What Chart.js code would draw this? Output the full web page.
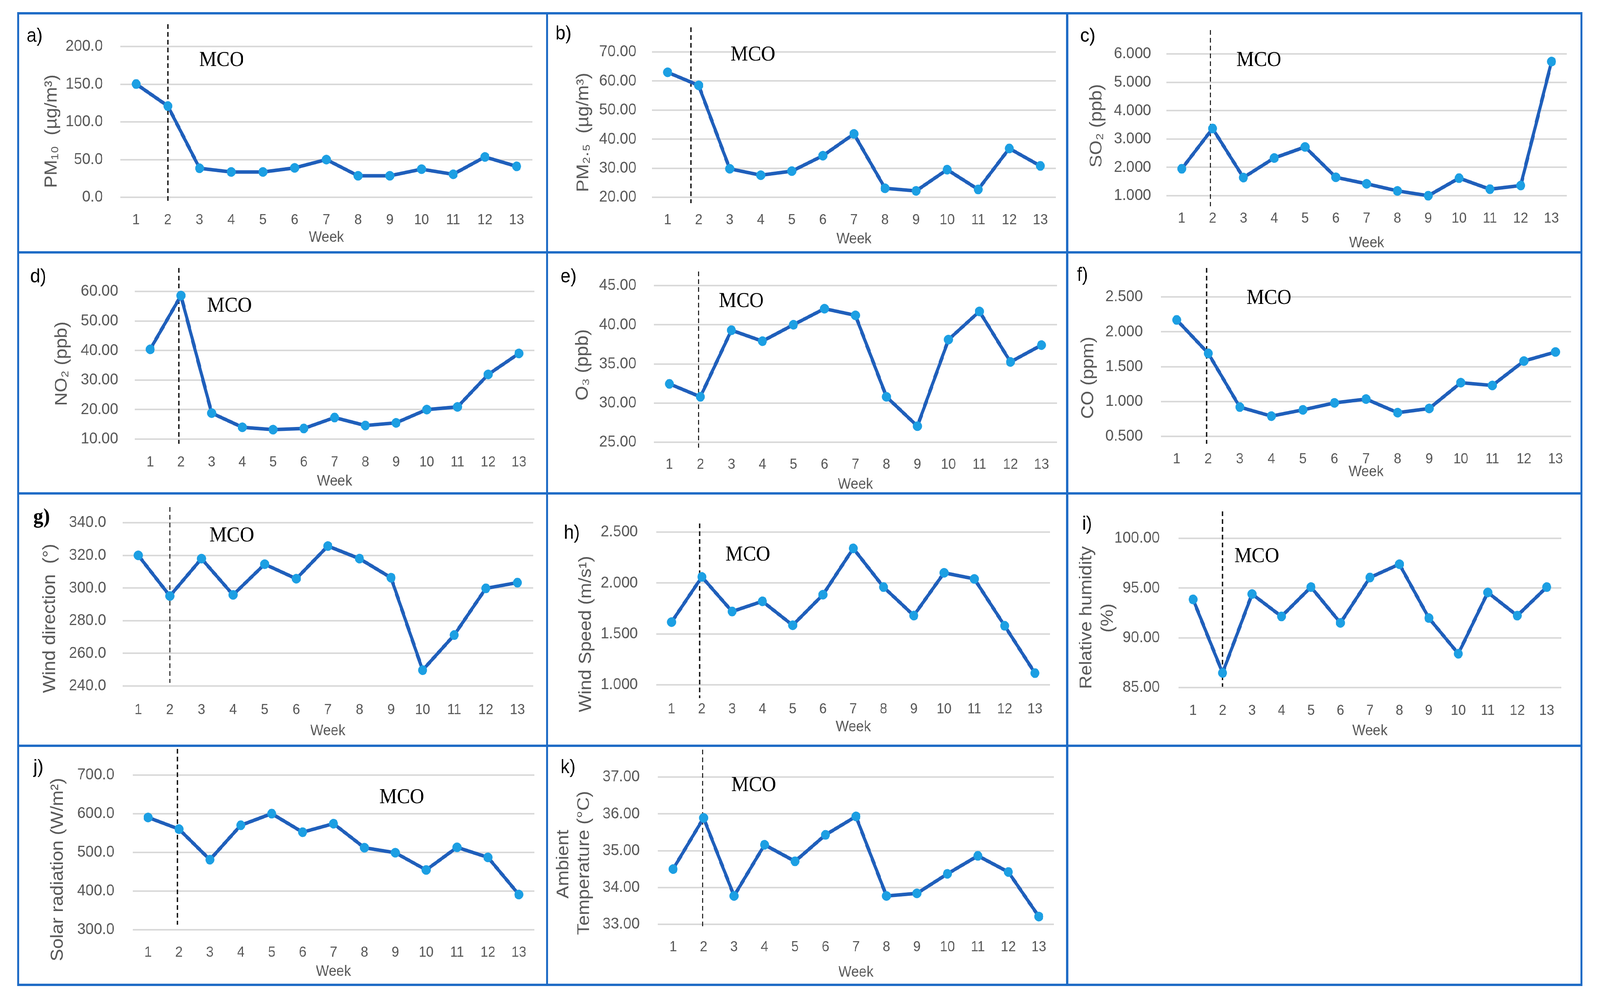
<!DOCTYPE html>
<html>
<head>
<meta charset="utf-8">
<script src="https://cdn.jsdelivr.net/npm/chart.js@4.4.1/dist/chart.umd.min.js"></script>
<style>
  html, body { margin: 0; padding: 0; background: #fff; overflow: hidden; }
  #sheet { position: absolute; left: 0; top: 0; width: 4402px; height: 2570px; background: #fff; overflow: hidden; transform-origin: 0 0; }
  #sheet canvas { position: absolute; }
  .rule { position: absolute; background: #1f6cc6; z-index: 5; }
</style>
</head>
<body>
<div id="sheet"></div>
<script>
// weekly means, 13 weeks
const weeks = ['1', '2', '3', '4', '5', '6', '7', '8', '9', '10', '11', '12', '13'];

const pm10 = [150.2, 121.0, 38.5, 33.6, 33.6, 39.0, 50.0, 28.5, 28.5, 37.3, 30.5, 53.5, 41.0];
const pm25 = [63.0, 58.5, 29.8, 27.6, 29.0, 34.3, 41.8, 23.1, 22.2, 29.5, 22.7, 36.8, 30.8];
const so2 = [1.95, 3.37, 1.64, 2.33, 2.72, 1.65, 1.42, 1.17, 1.00, 1.62, 1.23, 1.36, 5.73];
const no2 = [40.4, 58.6, 18.8, 14.0, 13.2, 13.6, 17.3, 14.6, 15.5, 20.0, 20.9, 31.9, 39.0];
const o3 = [32.45, 30.8, 39.3, 37.9, 40.0, 42.05, 41.2, 30.8, 27.05, 38.1, 41.7, 35.25, 37.4];
const co = [2.17, 1.69, 0.92, 0.79, 0.88, 0.98, 1.035, 0.84, 0.90, 1.27, 1.23, 1.58, 1.71];
const windDir = [320.0, 295.1, 318.0, 295.8, 314.6, 305.7, 325.7, 318.0, 306.3, 249.7, 271.2, 299.8, 303.3];
const windSpeed = [1.616, 2.06, 1.72, 1.82, 1.585, 1.885, 2.34, 1.96, 1.68, 2.10, 2.04, 1.58, 1.115];
const humidity = [93.86, 86.47, 94.4, 92.15, 95.1, 91.5, 96.06, 97.4, 91.99, 88.4, 94.56, 92.23, 95.1];
const solar = [590, 560, 481, 570, 600, 552, 574, 512, 499, 454.5, 513, 487, 391];
const temp = [34.5, 35.89, 33.77, 35.16, 34.71, 35.43, 35.93, 33.77, 33.84, 34.37, 34.86, 34.42, 33.21];

// y tick labels of each panel
const pm10Ticks = [0, 50, 100, 150, 200];
const pm25Ticks = [20, 30, 40, 50, 60, 70];
const so2Ticks = [1, 2, 3, 4, 5, 6];
const no2Ticks = [10, 20, 30, 40, 50, 60];
const o3Ticks = [25, 30, 35, 40, 45];
const coTicks = [0.5, 1.0, 1.5, 2.0, 2.5];
const windDirTicks = [240, 260, 280, 300, 320, 340];
const windSpeedTicks = [1.0, 1.5, 2.0, 2.5];
const humidityTicks = [85, 90, 95, 100];
const solarTicks = [300, 400, 500, 600, 700];
const tempTicks = [33, 34, 35, 36, 37];

const SANS = '"Liberation Sans", Arial, sans-serif';
const SERIF = '"Liberation Serif", "Times New Roman", serif';
const LINE = '#1f5fbb';
const DOT = '#1c9fe3';
const GREY = '#595959';
const GRID = '#d9d9d9';

// stretch the 4402x2570 sheet over whatever viewport we get
const W = 4402, H = 2570;
const sx = (window.innerWidth / W) || 1;
const sy = (window.innerHeight / H) || 1;
const sheet = document.getElementById('sheet');
sheet.style.transform = 'scale(' + sx + ',' + sy + ')';
const dpr = (window.devicePixelRatio || 1) * Math.max(sx, sy);

// dashed MCO line, panel letter, MCO text and the rotated y title
const panelDecor = {
  id: 'panelDecor',
  beforeDatasetsDraw(chart, args, o) {
    const ctx = chart.ctx;
    const x = chart.scales.x.getPixelForValue(o.mcoWeek - 1);
    ctx.save();
    ctx.strokeStyle = '#111';
    ctx.lineWidth = 3.5;
    ctx.setLineDash([12, 8]);
    ctx.beginPath();
    ctx.moveTo(x, o.dashTop);
    ctx.lineTo(x, o.dashBottom);
    ctx.stroke();
    ctx.restore();
  },
  afterDraw(chart, args, o) {
    const ctx = chart.ctx;
    ctx.save();
    ctx.fillStyle = '#000';
    ctx.textAlign = 'left';
    ctx.textBaseline = 'middle';
    ctx.font = o.letterFont;
    ctx.fillText(o.letter, o.letterX, o.letterY);
    ctx.font = '54px ' + SERIF;
    ctx.fillText('MCO', o.mcoX, o.mcoY);

    ctx.fillStyle = GREY;
    ctx.font = '48px ' + SANS;
    ctx.textAlign = 'center';
    o.titles.forEach(t => {
      ctx.save();
      ctx.translate(t.x, t.y);
      ctx.rotate(-Math.PI / 2);
      ctx.fillText(t.text, 0, 0);
      ctx.restore();
    });
    ctx.restore();
  }
};

// box = cell [left, top, right, bottom], grid = plot area [left, right, top, bottom]
// yTitle lines: [text, centre x, centre y]
const panels = [
  { letter: 'a)', values: pm10, ticks: pm10Ticks, dec: 1, yTitle: [['PM₁₀  (µg/m³)', 143, 336]],
    box: [50, 34, 1505, 646], grid: [331, 1465, 119, 505], tickY: 556, weekY: 609, yTickRight: 283,
    mco: [548, 155], let: [73, 93], mcoWeek: 2.0, dash: [62, 518] },
  { letter: 'b)', values: pm25, ticks: pm25Ticks, dec: 2, yTitle: [['PM₂.₅  (µg/m³)', 1606, 339]],
    box: [1505, 34, 2936, 646], grid: [1794, 2905, 133, 505], tickY: 556, weekY: 613, yTickRight: 1751,
    mco: [2010, 141], let: [1528, 87], mcoWeek: 1.75, dash: [70, 520] },
  { letter: 'c)', values: so2, ticks: so2Ticks, dec: 3, yTitle: [['SO₂ (ppb)', 3018, 322]],
    box: [2936, 34, 4351, 646], grid: [3209, 4311, 138, 501], tickY: 552, weekY: 623, yTickRight: 3167,
    mco: [3402, 155], let: [2972, 93], mcoWeek: 1.93, dash: [77, 528] },
  { letter: 'd)', values: no2, ticks: no2Ticks, dec: 2, yTitle: [['NO₂ (ppb)', 171, 931]],
    box: [50, 646, 1505, 1263], grid: [371, 1470, 746, 1124], tickY: 1176, weekY: 1233, yTickRight: 325,
    mco: [570, 784], let: [83, 709], mcoWeek: 1.93, dash: [686, 1136] },
  { letter: 'e)', values: o3, ticks: o3Ticks, dec: 2, yTitle: [['O₃ (ppb)', 1604, 934]],
    box: [1505, 646, 2936, 1263], grid: [1799, 2908, 731, 1132], tickY: 1182, weekY: 1241, yTickRight: 1751,
    mco: [1978, 772], let: [1542, 709], mcoWeek: 1.94, dash: [695, 1146] },
  { letter: 'f)', values: co, ticks: coTicks, dec: 3, yTitle: [['CO (ppm)', 2995, 967]],
    box: [2936, 646, 4351, 1263], grid: [3194, 4323, 760, 1117], tickY: 1168, weekY: 1209, yTickRight: 3144,
    mco: [3430, 764], let: [2963, 705], mcoWeek: 1.95, dash: [686, 1136] },
  { letter: 'g)', values: windDir, ticks: windDirTicks, dec: 1, yTitle: [['Wind direction  (°)', 138, 1583]],
    box: [50, 1263, 1505, 1909], grid: [337, 1467, 1338, 1756], tickY: 1810, weekY: 1872, yTickRight: 292,
    mco: [576, 1372], let: [92, 1325], mcoWeek: 2.0, dash: [1298, 1748], serifLetter: true },
  { letter: 'h)', values: windSpeed, ticks: windSpeedTicks, dec: 3, yTitle: [['Wind Speed (m/s¹)', 1613, 1623]],
    box: [1505, 1263, 2936, 1909], grid: [1806, 2889, 1362, 1753], tickY: 1808, weekY: 1862, yTickRight: 1755,
    mco: [1996, 1421], let: [1551, 1365], mcoWeek: 1.93, dash: [1340, 1787] },
  { letter: 'i)', values: humidity, ticks: humidityTicks, dec: 2, yTitle: [['Relative humidity', 2990, 1581], ['(%)', 3049, 1582]],
    box: [2936, 1263, 4351, 1909], grid: [3242, 4296, 1378, 1760], tickY: 1812, weekY: 1872, yTickRight: 3191,
    mco: [3396, 1425], let: [2977, 1342], mcoWeek: 2.0, dash: [1309, 1758] },
  { letter: 'j)', values: solar, ticks: solarTicks, dec: 1, yTitle: [['Solar radiation (W/m²)', 160, 2226]],
    box: [50, 1909, 1505, 2521], grid: [365, 1470, 1952, 2380], tickY: 2431, weekY: 2488, yTickRight: 315,
    mco: [1044, 2042], let: [92, 1965], mcoWeek: 1.95, dash: [1917, 2367] },
  { letter: 'k)', values: temp, ticks: tempTicks, dec: 2, yTitle: [['Ambient', 1551, 2212], ['Temperature (°C)', 1608, 2209]],
    box: [1505, 1909, 2936, 2521], grid: [1810, 2900, 1989, 2366], tickY: 2417, weekY: 2490, yTickRight: 1760,
    mco: [2012, 2011], let: [1542, 1965], mcoWeek: 1.97, dash: [1919, 2373] }
];

function makePanel(p) {
  const [bx, by, br, bb] = p.box;
  const [gl, gr, gt, gb] = p.grid;
  const canvas = document.createElement('canvas');
  canvas.width = br - bx;
  canvas.height = bb - by;
  canvas.style.left = bx + 'px';
  canvas.style.top = by + 'px';
  sheet.appendChild(canvas);

  const xTickSize = 37, yTickSize = 41, weekSize = 38;
  const yAxisW = gl - bx;
  const xAxisH = bb - gb;

  new Chart(canvas, {
    type: 'line',
    data: {
      labels: weeks,
      datasets: [{
        data: p.values,
        borderColor: LINE,
        borderWidth: 9,
        pointRadius: 12,
        pointBackgroundColor: DOT,
        pointBorderColor: DOT,
        pointBorderWidth: 1,
        tension: 0,
        clip: false
      }]
    },
    options: {
      responsive: false,
      animation: false,
      devicePixelRatio: dpr,
      layout: { padding: { left: 0, right: br - gr, top: gt - by, bottom: 0 } },
      plugins: {
        legend: { display: false },
        tooltip: { enabled: false },
        panelDecor: {
          mcoWeek: p.mcoWeek,
          dashTop: p.dash[0] - by,
          dashBottom: p.dash[1] - by,
          letter: p.letter,
          letterFont: p.serifLetter ? 'bold 54px ' + SERIF : '50px ' + SANS,
          letterX: p.let[0] - bx,
          letterY: p.let[1] - by,
          mcoX: p.mco[0] - bx,
          mcoY: p.mco[1] - by,
          titles: p.yTitle.map(t => ({ text: t[0], x: t[1] - bx, y: t[2] - by }))
        }
      },
      scales: {
        x: {
          offset: true,
          grid: { display: false },
          border: { display: false },
          ticks: {
            color: GREY,
            font: { family: SANS, size: xTickSize },
            padding: p.tickY - gb - xTickSize * 1.2 / 2,
            maxRotation: 0,
            autoSkip: false
          },
          title: {
            display: true,
            text: 'Week',
            color: GREY,
            font: { family: SANS, size: weekSize },
            padding: { top: 0, bottom: bb - p.weekY - weekSize * 1.2 / 2 }
          },
          afterFit: s => { s.height = xAxisH; }
        },
        y: {
          min: p.ticks[0],
          max: p.ticks[p.ticks.length - 1],
          grid: { color: GRID, lineWidth: 4, drawTicks: false },
          border: { display: false },
          ticks: {
            stepSize: p.ticks[1] - p.ticks[0],
            color: GREY,
            font: { family: SANS, size: yTickSize },
            padding: gl - p.yTickRight,
            callback: v => Number(v).toFixed(p.dec)
          },
          title: { display: false },
          afterFit: s => { s.width = yAxisW; }
        }
      }
    },
    plugins: [panelDecor]
  });
}

panels.forEach(makePanel);

// blue frame around the cells
function rule(x, y, w, h) {
  const d = document.createElement('div');
  d.className = 'rule';
  d.style.left = x + 'px';
  d.style.top = y + 'px';
  d.style.width = w + 'px';
  d.style.height = h + 'px';
  sheet.appendChild(d);
}
[34, 646, 1263, 1909, 2521].forEach(y => rule(47, y - 3, 4307, 6));
[50, 1505, 2936, 4351].forEach(x => rule(x - 3, 31, 6, 2493));
</script>
</body>
</html>
